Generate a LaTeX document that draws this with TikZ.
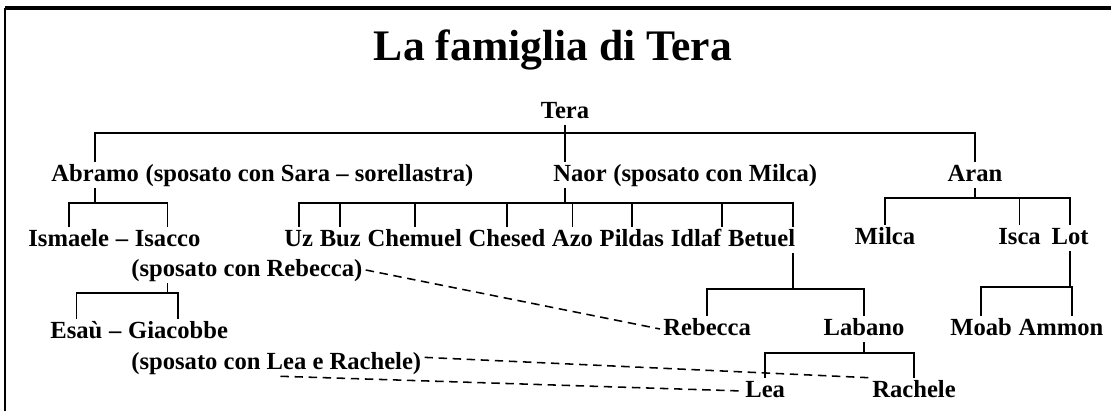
\documentclass[tikz,border=0pt]{standalone}
\usepackage{fontspec}
\setmainfont{Liberation Serif}
\usetikzlibrary{positioning}
\tikzset{
    %Define style for names
    person/.style={
        font=\fontsize{17.5}{20}\selectfont\bfseries,
        inner xsep=2.2pt, inner ysep=1pt,
        text height=12.6pt, text depth=3.9pt
    },
    titolo/.style={
        font=\fontsize{31}{36}\selectfont\bfseries,
        inner sep=0pt
    },
    % Define line styles
    link/.style={line width=1.2pt},
    wed/.style={line width=1.1pt, dash pattern=on 6pt off 4pt}
}
\begin{document}
\begin{tikzpicture}[x=0.025cm,y=-0.025cm,node distance=0pt]
\useasboundingbox (0,0) rectangle (1111,411);
% frame
\draw[line width=2.2pt] (5,8) -- (1111,8);
\draw[line width=1.4pt] (5,8) -- (5,411);

\node[titolo] (title) at (553,50) {La famiglia di Tera};
\node[person] (tera) at (565,112) {Tera};

% sons of Tera
\node[person, anchor=west] (abramo) at (48,175) {Abramo};
\node[person, right=of abramo] (sara) {(sposato con Sara – sorellastra)};
\node[person, anchor=west] (naor) at (550,175) {Naor};
\node[person, right=of naor] (milcasp) {(sposato con Milca)};
\node[person] (aran) at (975,175) {Aran};

% grandchildren
\node[person, anchor=west] (ismaele) at (25,240) {Ismaele};
\node[person, right=of ismaele] (trat1) {–};
\node[person, right=of trat1] (isacco) {Isacco};
\node[person, anchor=west] (uz) at (281,240) {Uz};
\node[person, right=of uz] (buz) {Buz};
\node[person, right=of buz] (chemuel) {Chemuel};
\node[person, right=of chemuel] (chesed) {Chesed};
\node[person, right=of chesed] (azo) {Azo};
\node[person, right=of azo] (pildas) {Pildas};
\node[person, right=of pildas] (idlaf) {Idlaf};
\node[person, right=of idlaf] (betuel) {Betuel};
\node[person] (milca) at (885,238) {Milca};
\node[person, anchor=west] (isca) at (995,238) {Isca};
\node[person, right=3pt of isca] (lot) {Lot};

\node[person, anchor=west] (spreb) at (128,270) {(sposato con Rebecca)};
\node[person, anchor=west] (esau) at (47,332) {Esaù};
\node[person, right=of esau] (trat2) {–};
\node[person, right=of trat2] (giacobbe) {Giacobbe};
\node[person, anchor=west] (splr) at (128,363) {(sposato con Lea e Rachele)};
\node[person, anchor=west] (rebecca) at (660,329) {Rebecca};
\node[person] (labano) at (864,329) {Labano};
\node[person, anchor=west] (moab) at (947,329) {Moab};
\node[person, right=of moab] (ammon) {Ammon};
\node[person, anchor=west] (lea) at (742,391) {Lea};
\node[person, anchor=west] (rachele) at (869,391) {Rachele};

% levels of the bars
\coordinate (ltera) at (0,133);
\coordinate (labr) at (0,203);
\coordinate (lnaor) at (0,203);
\coordinate (laran) at (0,198);
\coordinate (lisacco) at (0,293);
\coordinate (lbetuel) at (0,289);
\coordinate (llot) at (0,287);
\coordinate (llabano) at (0,353);
\coordinate (betx) at ([xshift=-4pt]betuel.east);
\coordinate (idx) at ([xshift=-2pt]idlaf.north east);
\coordinate (ammx) at ([xshift=8pt]ammon.north);

% Tera
\draw[link] (abramo.north) |- (aran |- ltera) -- (aran.north);
\draw[link] (tera.south) -- (tera |- naor.north);
% Abramo
\draw[link] (abramo.south) -- (abramo |- labr);
\draw[link] (ismaele.north) |- (isacco |- labr) -- (isacco.north);
% Isacco
\draw[link] (spreb.south -| isacco) -- (isacco |- lisacco);
\draw[link] (esau.north) |- (giacobbe |- lisacco) -- (giacobbe.north);
% Naor
\draw[link] (naor.south -| tera) -- (tera |- lnaor);
\draw[link] (uz.north) |- (betx |- lnaor) -- (betx |- betuel.north);
\foreach \n in {buz,chemuel,chesed,azo,pildas}
    \draw[link] (\n.north) -- (\n |- lnaor);
\draw[link] (idx) -- (idx |- lnaor);
% Betuel
\draw[link] (betx |- betuel.south) -- (betx |- lbetuel);
\draw[link] (rebecca.north) |- (labano |- lbetuel) -- (labano.north);
% Labano
\draw[link] (labano.south) -- (labano |- llabano);
\draw[link] (lea.north) |- (rachele |- llabano) -- (rachele.north);
% Aran
\draw[link] (aran.south) -- (aran |- laran);
\draw[link] (milca.north) |- (lot |- laran) -- (lot.north);
\draw[link] (isca.north) -- (isca |- laran);
% Lot
\draw[link] (lot.south) -- (lot |- llot);
\draw[link] (moab.north) |- (ammx |- llot) -- (ammx);

% marriages
\draw[wed] (spreb.east) -- (rebecca.west);
\draw[wed] ([yshift=4pt]splr.east) -- (rachele.north west);
\draw[wed] ([xshift=3pt]splr.south) -- (lea.west);
\end{tikzpicture}
\end{document}
